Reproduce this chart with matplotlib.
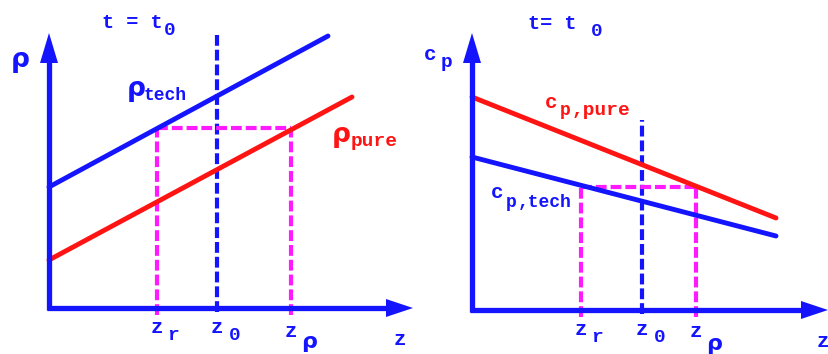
import matplotlib
matplotlib.use("Agg")
import matplotlib.pyplot as plt

BLUE = "#1414ff"
RED = "#ff1414"
MAGENTA = "#ff1aff"
MONO = "Liberation Mono"
SANS = "DejaVu Sans"

# ── Left panel: density against height (units: px from the origin) ──────────
rho_tech_z = [0, 279]
rho_tech = [121, 272]
rho_pure_z = [0, 303]
rho_pure = [48, 211]
left_z_r, left_z_0, left_z_rho = 108, 168, 242
left_rho_level = 180

# ── Right panel: heat capacity against height ────────────────────────────────
cp_z = [0, 304]
cp_pure = [213, 92]
cp_tech = [153, 74]
right_z_r, right_z_0, right_z_rho = 109, 170, 224
right_cp_level = 123

LW = 3.5
DASH = (2.6, 0.95)


def axes_arrows(ax, xlen, ylen):
    ax.plot([0, 0], [-2, ylen - 25], color=BLUE, lw=3.8, solid_capstyle="butt")
    ax.plot([-2, xlen - 22], [0, 0], color=BLUE, lw=3.8, solid_capstyle="butt")
    ax.arrow(0, ylen - 30, 0, 30, width=0.1, head_width=18, head_length=30,
             length_includes_head=True, fc=BLUE, ec="none")
    ax.arrow(xlen - 27, 0, 27, 0, width=0.1, head_width=18, head_length=27,
             length_includes_head=True, fc=BLUE, ec="none")


def guides(ax, z_r, z_0, z_rho, level, z0_top):
    ax.plot([z_0, z_0], [-4, z0_top], color=BLUE, lw=3.0, dashes=DASH)
    ax.plot([z_r, z_r], [-7, level], color=MAGENTA, lw=3.0, dashes=DASH)
    ax.plot([z_rho, z_rho], [-7, level], color=MAGENTA, lw=3.0, dashes=DASH)
    ax.plot([z_r, z_rho], [level, level], color=MAGENTA, lw=3.0, dashes=DASH)


def txt(ax, x, y, s, size=15, color=BLUE, family=MONO, ha="left"):
    ax.text(x, y, s, fontsize=size, color=color, family=family,
            fontweight="bold", ha=ha, va="baseline")


def z_ticks(ax, z_r, z_0, z_rho, dy):
    txt(ax, z_r, -25, "z", ha="center")
    txt(ax, z_r + 16, -32, "r", size=14, ha="center")
    txt(ax, z_0, -25, "z", ha="center")
    txt(ax, z_0 + 18, -32, "0", size=14, ha="center")
    txt(ax, z_rho, -27 + dy, "z", ha="center")
    txt(ax, z_rho + 18, -40, "ρ", size=16, family=SANS, ha="center")


fig = plt.figure(figsize=(8.29, 3.54), dpi=100)

# left panel, origin at pixel (49, 308)
axl = fig.add_axes([0, 0, 0.5, 1])
axl.set_xlim(-49, 414.5 - 49)
axl.set_ylim(-46, 308)
axl.axis("off")

guides(axl, left_z_r, left_z_0, left_z_rho, left_rho_level, 273)
axl.plot(rho_tech_z, rho_tech, color=BLUE, lw=LW, solid_capstyle="round")
axl.plot(rho_pure_z, rho_pure, color=RED, lw=LW, solid_capstyle="round")
axes_arrows(axl, 364, 275)

txt(axl, 53, 280, "t = t", size=14.5)
txt(axl, 115, 273, "0", size=14)
txt(axl, -29, 241, "ρ", size=19, family=SANS, ha="center")
txt(axl, 87, 212, "ρ", size=19, family=SANS, ha="center")
txt(axl, 95, 208, "tech", size=13)
txt(axl, 292, 166, "ρ", size=19, color=RED, family=SANS, ha="center")
txt(axl, 302, 162, "pure", size=14, color=RED)
z_ticks(axl, left_z_r, left_z_0, left_z_rho, -2)
txt(axl, 351, -37, "z", ha="center")

# right panel, origin at pixel (472, 310)
axr = fig.add_axes([0.5, 0, 0.5, 1])
axr.set_xlim(-57.5, 357)
axr.set_ylim(-44, 310)
axr.axis("off")

guides(axr, right_z_r, right_z_0, right_z_rho, right_cp_level, 190)
axr.plot(cp_z, cp_pure, color=RED, lw=LW, solid_capstyle="round")
axr.plot(cp_z, cp_tech, color=BLUE, lw=LW, solid_capstyle="round")
axes_arrows(axr, 356, 277)

txt(axr, 56, 281, "t= t", size=14.5)
txt(axr, 119, 274, "0", size=14)
txt(axr, -48, 250, "c")
txt(axr, -31, 243, "p", size=14)
txt(axr, 73, 202, "c", color=RED)
txt(axr, 88, 195, "p", size=13, color=RED)
txt(axr, 100, 195, ",pure", size=14, color=RED)
txt(axr, 19, 112, "c")
txt(axr, 34, 103, "p", size=13)
txt(axr, 46, 103, ",tech", size=13)
z_ticks(axr, right_z_r, right_z_0, right_z_rho, 0)
txt(axr, 351, -37, "z", ha="center")

fig.savefig("out.png", dpi=100)
